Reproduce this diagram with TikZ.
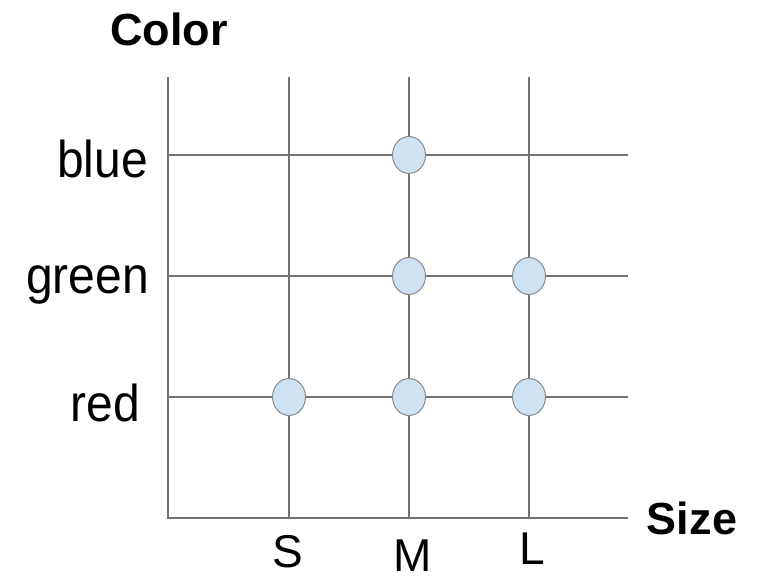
\documentclass[tikz,border=0pt]{standalone}
\usepackage{fontspec}
\setmainfont{Liberation Sans}
\usetikzlibrary{shapes.geometric}
\newcommand{\tallrow}[1]{\scalebox{1}[1.08]{#1}}
\begin{document}
\begin{tikzpicture}[x=1pt,y=-1pt,
  gridline/.style={draw=black!55, line width=1.3pt},
  dot/.style={ellipse, draw=black!45, line width=1pt, fill={rgb,255:red,207;green,226;blue,243},
    minimum width=33pt, minimum height=37pt, inner sep=0pt},
  axistitle/.style={font=\fontsize{45}{54}\selectfont\bfseries, inner sep=0pt},
  rowlabel/.style={font=\fontsize{48}{56}\selectfont, inner sep=0pt},
  ticklabel/.style={font=\fontsize{46}{54}\selectfont, inner sep=0pt}]
\useasboundingbox (0,0) rectangle (764,577);

% axes
\coordinate (origin) at (168,518);
\coordinate (ytop) at (168,77);
\coordinate (xend) at (628,518);
\draw[gridline] (ytop) -- (origin) -- (xend);

% grid: one column per size, one row per colour
\foreach \x/\n in {289/S,409/M,529/L}{
  \coordinate (col\n top) at (\x,77);
  \coordinate (col\n bot) at (\x,518);
  \draw[gridline] (col\n top) -- (col\n bot);
}
\foreach \y/\n in {155/blue,276/green,397/red}{
  \coordinate (row\n left) at (168,\y);
  \coordinate (row\n right) at (628,\y);
  \draw[gridline] (row\n left) -- (row\n right);
}

% data points
\node[dot] (blueM) at (409,155) {};
\node[dot] (greenM) at (409,276) {};
\node[dot] (greenL) at (529,276) {};
\node[dot] (redS) at (289,397) {};
\node[dot] (redM) at (409,397) {};
\node[dot] (redL) at (529,397) {};

% axis titles
\node[axistitle, anchor=base] (ytitle) at (169,46) {Color};
\node[axistitle, anchor=base] (xtitle) at (692,535) {Size};

% row labels
\node[rowlabel, anchor=base east] (lblue) at (148,178) {\tallrow{blue}};
\node[rowlabel, anchor=base east] (lgreen) at (149,294) {\tallrow{green}};
\node[rowlabel, anchor=base east] (lred) at (140,422) {\tallrow{red}};

% column labels
\node[ticklabel, anchor=base] (lS) at (288,567) {S};
\node[ticklabel, anchor=base] (lM) at (413,571) {M};
\node[ticklabel, anchor=base] (lL) at (532,565) {L};
\end{tikzpicture}
\end{document}
